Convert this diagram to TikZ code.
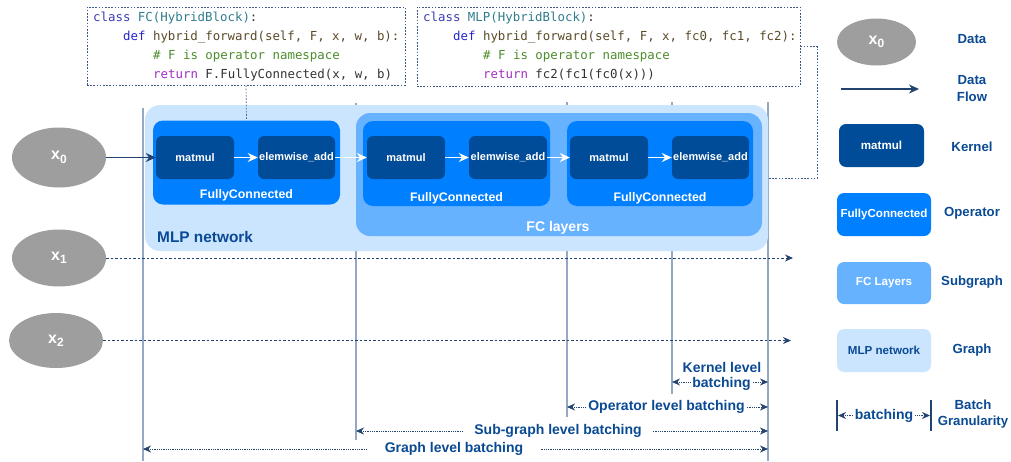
\documentclass[tikz,border=0pt]{standalone}
\usepackage{fontspec}
\setmainfont{Liberation Sans}
\setmonofont{DejaVu Sans Mono}
\usetikzlibrary{arrows.meta,shapes.geometric}

\definecolor{graphc}{HTML}{CCE5FF}
\definecolor{subc}{HTML}{66B2FF}
\definecolor{opc}{HTML}{007FFF}
\definecolor{kerc}{HTML}{004C99}
\definecolor{txtc}{HTML}{0A4A93}
\definecolor{ellc}{HTML}{9E9E9E}
\definecolor{vlc}{HTML}{93A8C4}
\definecolor{flowc}{HTML}{22436F}
\definecolor{dotc}{HTML}{3A5A85}
\definecolor{kwc}{HTML}{3C3CB4}
\definecolor{defc}{HTML}{2424CC}
\definecolor{clsc}{HTML}{2F7C8E}
\definecolor{fnc}{HTML}{5A4A28}
\definecolor{cmc}{HTML}{4C8C2B}
\definecolor{retc}{HTML}{A030C0}
\definecolor{codetxt}{HTML}{333333}

\newcommand\fsz[1]{\fontsize{#1}{#1}\selectfont}
\newcommand\xsub[1]{x\raisebox{-0.4ex}{\fsz{12}#1}}

\tikzset{
  graphbox/.style={fill=graphc, draw=none, rounded corners=15pt, inner sep=0pt},
  subbox/.style={fill=subc, draw=none, rounded corners=14pt, inner sep=0pt},
  opbox/.style={fill=opc, draw=none, rounded corners=10pt, inner sep=0pt},
  kernel/.style={fill=kerc, draw=none, rounded corners=6pt, minimum width=78pt, minimum height=43pt,
    inner sep=0pt, text=white, font=\bfseries\fsz{11}},
  datanode/.style={ellipse, fill=ellc, draw=none, minimum width=94pt, minimum height=57pt,
    inner sep=0pt, text=white, font=\bfseries\fsz{16}},
  whitelab/.style={text=white, font=\bfseries\fsz{12.4}, inner sep=0pt},
  bluelab/.style={text=txtc, font=\bfseries\fsz{13.2}, inner sep=0pt, align=center},
  batchlab/.style={text=txtc, font=\bfseries\fsz{14}, inner sep=0pt, fill=white, align=center},
  code/.style={font=\ttfamily\fsz{12.4}, text=codetxt, inner sep=0pt, anchor=base west},
  codebox/.style={draw=dotc, line width=0.7pt, dash pattern=on 1.6pt off 1.6pt, inner sep=0pt},
  codelink/.style={draw=dotc, line width=0.7pt, dash pattern=on 1.6pt off 1.6pt},
  vline/.style={draw=vlc, line width=1.1pt},
  flowarrow/.style={draw=flowc, line width=1.5pt, -{Stealth[length=10pt,width=9pt]}},
  warrow/.style={draw=white, line width=1.6pt, -{Stealth[length=10pt,width=9pt]}},
  dataline/.style={draw=flowc, line width=0.9pt, dash pattern=on 2.5pt off 2pt, -{Stealth[length=8pt,width=7pt]}},
  batcharrow/.style={draw=flowc, line width=0.7pt, dash pattern=on 1pt off 0.8pt,
    {Stealth[length=8pt,width=7pt]}-{Stealth[length=8pt,width=7pt]}},
  legbox/.style={draw=none, rounded corners=7pt, minimum width=94pt, minimum height=43pt, inner sep=0pt,
    font=\bfseries\fsz{11.6}},
  legbar/.style={draw=flowc, line width=1.2pt},
}

\begin{document}
\begin{tikzpicture}[x=1pt, y=-1pt]
\useasboundingbox (0,0) rectangle (1011,461);

% vertical guide lines (behind boxes)
\coordinate (v1t) at (143,108); \coordinate (v1b) at (143,461);
\coordinate (v2t) at (356,103); \coordinate (v2b) at (356,440);
\coordinate (v3t) at (567,102); \coordinate (v3b) at (567,417);
\coordinate (v4t) at (672,102); \coordinate (v4b) at (672,394);
\coordinate (v5t) at (768,102); \coordinate (v5b) at (768,461);
\draw[vline] (v1t) -- (v1b);
\draw[vline] (v2t) -- (v2b);
\draw[vline] (v3t) -- (v3b);
\draw[vline] (v4t) -- (v4b);
\draw[vline] (v5t) -- (v5b);

% graph / subgraph / operators / kernels
\node[graphbox, minimum width=623pt, minimum height=146pt] (graph) at (456.5,178) {};
\node[subbox, minimum width=406pt, minimum height=123pt] (sub) at (559,174.5) {};
\node[opbox, minimum width=187pt, minimum height=84pt] (op1) at (246.5,162.5) {};
\node[opbox, minimum width=187pt, minimum height=85pt] (op2) at (456.5,163.5) {};
\node[opbox, minimum width=186pt, minimum height=85pt] (op3) at (660,163.5) {};

\node[kernel] (m1) at (195,157.5) {matmul};
\node[kernel, minimum width=77pt] (e1) at (296.5,157.5) {elemwise\_add};
\node[kernel] (m2) at (406,157.5) {matmul};
\node[kernel] (e2) at (508,157.5) {elemwise\_add};
\node[kernel] (m3) at (609,157.5) {matmul};
\node[kernel, minimum width=77pt] (e3) at (710.5,157.5) {elemwise\_add};

\node[whitelab] (fc1lab) at (246.5,195) {FullyConnected};
\node[whitelab] (fc2lab) at (456.5,198) {FullyConnected};
\node[whitelab] (fc3lab) at (660,198) {FullyConnected};
\node[text=white, font=\bfseries\fsz{14}, inner sep=0pt] (fclayers) at (558,228) {FC layers};
\node[text=txtc, font=\bfseries\fsz{15.4}, inner sep=0pt, anchor=west] (mlplab) at (157,237) {MLP network};

\draw[warrow] (m1) -- (e1);
\draw[warrow] (e1) -- (m2);
\draw[warrow] (m2) -- (e2);
\draw[warrow] (e2) -- (m3);
\draw[warrow] (m3) -- (e3);

% data nodes
\node[datanode, minimum height=60pt] (x0) at (59,157.5) {\xsub{0}};
\node[datanode] (x1) at (59,258) {\xsub{1}};
\node[datanode, minimum height=55pt] (x2) at (56,340.5) {\xsub{2}};
\draw[flowarrow] (x0.east) -- (m1.west);
\coordinate (x1end) at (793,258);
\coordinate (x2end) at (791,340.5);
\draw[dataline] (x1.east) -- (x1end);
\draw[dataline] (x2.east) -- (x2end);

% code boxes
\node[codebox, minimum width=318pt, minimum height=78pt] (code1) at (246,46) {};
\node[code] (c1a) at (93,21) {\textcolor{kwc}{class} \textcolor{clsc}{FC(HybridBlock)}:};
\node[code] (c1b) at (123,40) {\textcolor{defc}{def} \textcolor{fnc}{hybrid\_forward(self, F, x, w, b):}};
\node[code] (c1c) at (153,59) {\textcolor{cmc}{\# F is operator namespace}};
\node[code] (c1d) at (153,78) {\textcolor{retc}{return} F.FullyConnected(x, w, b)};

\node[codebox, minimum width=383pt, minimum height=79pt] (code2) at (608.5,46.5) {};
\node[code] (c2a) at (423,21) {\textcolor{kwc}{class} \textcolor{clsc}{MLP(HybridBlock)}:};
\node[code] (c2b) at (453,40) {\textcolor{defc}{def} \textcolor{fnc}{hybrid\_forward(self, F, x, fc0, fc1, fc2):}};
\node[code] (c2c) at (483,59) {\textcolor{cmc}{\# F is operator namespace}};
\node[code] (c2d) at (483,78) {\textcolor{retc}{return} fc2(fc1(fc0(x)))};

\draw[codelink] (code1.south) -- (op1.north);
\draw[codelink] (code2.east) -- ++(17,0) |- (graph.east);

% batching arrows
\coordinate (kb1) at (672,382); \coordinate (kb2) at (768,382);
\coordinate (ob1) at (567,407); \coordinate (ob2) at (768,407);
\coordinate (sb1) at (356,431); \coordinate (sb2) at (768,431);
\coordinate (gb1) at (143,449); \coordinate (gb2) at (768,449);
\draw[batcharrow] (kb1) -- (kb2);
\draw[batcharrow] (ob1) -- (ob2);
\draw[batcharrow] (sb1) -- (sb2);
\draw[batcharrow] (gb1) -- (gb2);
\node[batchlab, fill=none] (klab1) at (722,367) {Kernel level};
\node[batchlab, inner xsep=1.5pt, inner ysep=0pt] (klab2) at (721.5,384) {batching};
\node[batchlab, inner xsep=1.5pt] (olab) at (666.5,407) {Operator level batching};
\node[batchlab, inner xsep=10pt] (slab) at (558,431) {Sub-graph level batching};
\node[batchlab, inner xsep=18pt] (glab) at (454,449) {Graph level batching};

% legend
\node[datanode, minimum width=79pt, minimum height=47pt] (lx0) at (876.5,42) {\xsub{0}};
\node[bluelab] (ldata) at (972,39) {Data};
\coordinate (la1) at (841,89); \coordinate (la2) at (919,89);
\draw[flowarrow] (la1) -- (la2);
\node[bluelab] (lflow1) at (972,80) {Data};
\node[bluelab] (lflow2) at (972,97) {Flow};
\node[legbox, fill=kerc, text=white, minimum width=85pt] (lk) at (881.5,145.5) {matmul};
\node[bluelab] (lkt) at (972,147) {Kernel};
\node[legbox, fill=opc, text=white] (lo) at (884,214.5) {FullyConnected};
\node[bluelab] (lot) at (972,213) {Operator};
\node[legbox, fill=subc, text=white, minimum height=42pt] (ls) at (884,283) {FC Layers};
\node[bluelab] (lst) at (972,282) {Subgraph};
\node[legbox, fill=graphc, text=txtc] (lg) at (884,350.5) {MLP network};
\node[bluelab] (lgt) at (972,350) {Graph};
\coordinate (lb1t) at (837,400); \coordinate (lb1b) at (837,431);
\coordinate (lb2t) at (931,400); \coordinate (lb2b) at (931,431);
\draw[legbar] (lb1t) -- (lb1b);
\draw[legbar] (lb2t) -- (lb2b);
\coordinate (lba) at (838,415.5); \coordinate (lbb) at (930,415.5);
\draw[batcharrow] (lba) -- (lbb);
\node[batchlab, inner xsep=2pt] (lbt) at (884,415.5) {batching};
\node[bluelab] (lbg1) at (973,405) {Batch};
\node[bluelab] (lbg2) at (973,422) {Granularity};
\end{tikzpicture}
\end{document}
